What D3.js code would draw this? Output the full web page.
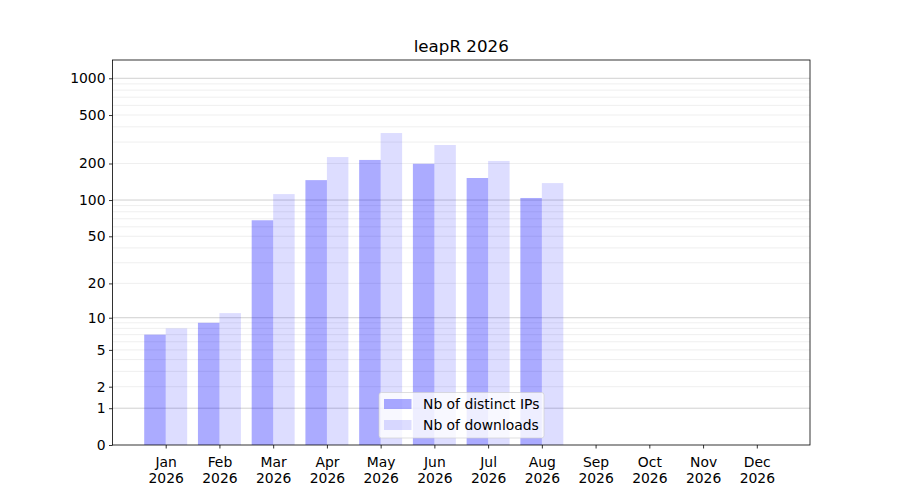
<!DOCTYPE html>
<html>
<head>
<meta charset="utf-8">
<script src="https://cdn.jsdelivr.net/npm/d3@7"></script>
<style>
  body { margin: 0; background: #fff; }
  text { font-family: "DejaVu Sans", sans-serif; fill: #000; }
</style>
</head>
<body>
<svg id="container" width="900" height="500"></svg>
<script>
const months = ["Jan", "Feb", "Mar", "Apr", "May", "Jun", "Jul", "Aug", "Sep", "Oct", "Nov", "Dec"];
const year = "2026";
const distinctIPs = [7, 9, 68, 146, 214, 199, 152, 104, 0, 0, 0, 0];
const downloads = [8, 11, 112, 226, 356, 284, 210, 138, 0, 0, 0, 0];
const yTicks = [0, 1, 2, 5, 10, 20, 50, 100, 200, 500, 1000];
const majorGrid = [1, 10, 100, 1000];
const minorGrid = [2, 3, 4, 5, 6, 7, 8, 9, 20, 30, 40, 50, 60, 70, 80, 90,
  200, 300, 400, 500, 600, 700, 800, 900];
const seriesNames = ["Nb of distinct IPs", "Nb of downloads"];
const seriesColors = ["#0000ff", "#0000ff"];
const seriesAlpha = [0.33, 0.135];

function drawChart() {
  const svg = d3.select("#container");
  const left = 112.5, right = 810, top = 60, bottom = 445;
  const barW = 0.4;

  const x = d3.scaleLinear().domain([-0.99, 11.99]).range([left, right]);
  // log(1 + v) axis
  const y = d3.scaleSymlog().constant(1).domain([0, 1412]).range([bottom, top]);

  // grid
  svg.append("g")
    .selectAll("line")
    .data(minorGrid)
    .enter()
    .append("line")
    .attr("x1", left).attr("x2", right)
    .attr("y1", (d) => y(d)).attr("y2", (d) => y(d))
    .attr("stroke", "#ebebeb").attr("stroke-width", 0.8);

  svg.append("g")
    .selectAll("line")
    .data(majorGrid)
    .enter()
    .append("line")
    .attr("x1", left).attr("x2", right)
    .attr("y1", (d) => y(d)).attr("y2", (d) => y(d))
    .attr("stroke", "#c4c4c4").attr("stroke-width", 0.8);

  // bars
  const series = [distinctIPs, downloads];
  series.forEach((vals, s) => {
    svg.append("g")
      .selectAll("rect")
      .data(vals)
      .enter()
      .append("rect")
      .attr("x", (d, i) => x(i - barW + s * barW))
      .attr("width", x(barW) - x(0))
      .attr("y", (d) => y(d))
      .attr("height", (d) => y(0) - y(d))
      .attr("fill", seriesColors[s])
      .attr("fill-opacity", seriesAlpha[s]);
  });

  // axes
  const xAxis = d3.axisBottom(x)
    .tickValues(d3.range(months.length))
    .tickSize(3.5)
    .tickPadding(3.5)
    .tickFormat("");
  const gx = svg.append("g")
    .attr("transform", `translate(0,${bottom})`)
    .call(xAxis);
  gx.select(".domain").remove();
  gx.selectAll(".tick line").attr("stroke", "#000").attr("stroke-width", 0.8);
  gx.selectAll(".tick")
    .append("text")
    .attr("text-anchor", "middle")
    .attr("font-size", "13.9px")
    .selectAll("tspan")
    .data((d) => [months[d], year])
    .enter()
    .append("tspan")
    .attr("x", 0)
    .attr("y", (d, i) => 21.5 + i * 16)
    .text((d) => d);

  const yAxis = d3.axisLeft(y)
    .tickValues(yTicks)
    .tickSize(3.5)
    .tickPadding(3.5)
    .tickFormat(d3.format("d"));
  const gy = svg.append("g")
    .attr("transform", `translate(${left},0)`)
    .call(yAxis);
  gy.select(".domain").remove();
  gy.selectAll(".tick line").attr("stroke", "#000").attr("stroke-width", 0.8);
  gy.selectAll(".tick text")
    .attr("font-size", "13.9px")
    .attr("font-family", "DejaVu Sans")
    .attr("fill", "#000");

  // frame
  svg.append("rect")
    .attr("x", left).attr("y", top)
    .attr("width", right - left).attr("height", bottom - top)
    .attr("fill", "none")
    .attr("stroke", "#000")
    .attr("stroke-width", 0.8);

  // title
  svg.append("text")
    .attr("x", (left + right) / 2)
    .attr("y", top - 8)
    .attr("text-anchor", "middle")
    .attr("font-size", "16.7px")
    .text("leapR 2026");

  // legend
  const lg = svg.append("g").attr("transform", "translate(379,392.5)");
  lg.append("rect")
    .attr("width", 165).attr("height", 45.5)
    .attr("rx", 2.5)
    .attr("fill", "#fff").attr("fill-opacity", 0.8)
    .attr("stroke", "#cccccc").attr("stroke-opacity", 0.8)
    .attr("stroke-width", 0.8);
  const items = lg.selectAll("g.item")
    .data(seriesNames)
    .enter()
    .append("g")
    .attr("class", "item")
    .attr("transform", (d, i) => `translate(5,${6.5 + i * 21})`);
  items.append("rect")
    .attr("width", 27.5).attr("height", 10)
    .attr("fill", (d, i) => seriesColors[i])
    .attr("fill-opacity", (d, i) => seriesAlpha[i]);
  items.append("text")
    .attr("x", 39)
    .attr("y", 10)
    .attr("font-size", "13.9px")
    .text((d) => d);
}

drawChart();
</script>
</body>
</html>
